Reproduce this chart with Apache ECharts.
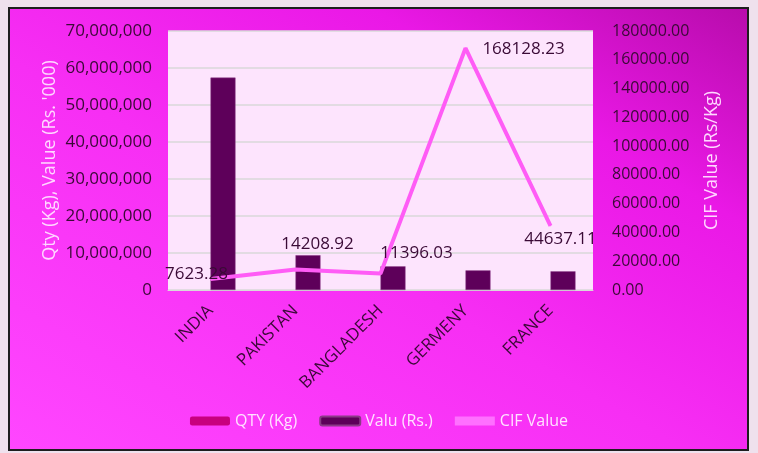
<!DOCTYPE html>
<html><head><meta charset="utf-8">
<script src="https://cdn.jsdelivr.net/npm/echarts@6/dist/echarts.min.js"></script>
<style>
html,body{margin:0;padding:0;background:#efe1ed;width:758px;height:453px;overflow:hidden}
#bg{position:absolute;left:8px;top:7px;width:737px;height:440px;border:2px solid #1e1e1e;
background:linear-gradient(30deg,#ff46ff 0%,#f72ef4 45%,#ea18e6 75%,#b80cac 100%);}
#c{position:absolute;left:0;top:0;width:758px;height:453px}
</style></head><body>
<div id="bg"></div><div id="c"></div>
<script>
const categories = ['INDIA','PAKISTAN','BANGLADESH','GERMENY','FRANCE'];
const qtyKg = [7530, 660, 560, 32, 113];
const valuRs = [57400000, 9400000, 6400000, 5300000, 5050000];
const cifValue = [7623.28, 14208.92, 11396.03, 168128.23, 44637.11];
const leftTicks = {min:0, max:70000000, interval:10000000};
const rightTicks = {min:0, max:180000, interval:20000};

const labelOffsets = [[-14,-5],[22,-25],[36,-20],[58,1],[10,13]];
const FONT = "'Open Sans', 'Noto Sans', sans-serif";
const dark = '#3a0a36';
const chart = echarts.init(document.getElementById('c'));
chart.setOption({
  backgroundColor:'transparent',
  animation:false,
  textStyle:{fontFamily:FONT},
  grid:{left:168,right:165,top:31,bottom:163,show:true,backgroundColor:'#fde4fd',borderWidth:0},
  legend:{
    bottom:19,left:'center',itemWidth:40,itemHeight:9,itemGap:22,
    textStyle:{color:'#ffe2ff',fontSize:16,fontFamily:FONT},
    data:[{name:'QTY (Kg)'},{name:'Valu (Rs.)'},{name:'CIF Value',icon:'rect',itemStyle:{color:'#ff70ff'}}]
  },
  xAxis:{
    type:'category',data:categories,
    axisLine:{lineStyle:{color:'#d9d9d9',width:1}},axisTick:{show:false},
    axisLabel:{rotate:45,color:dark,fontSize:17,fontFamily:FONT,margin:18}
  },
  yAxis:[{
    type:'value',min:leftTicks.min,max:leftTicks.max,interval:leftTicks.interval,
    name:"Qty (Kg), Value (Rs. '000)",nameLocation:'middle',nameGap:109,nameRotate:90,
    nameMoveOverlap:false,
    nameTextStyle:{color:'#ffd8ff',fontSize:18,fontFamily:FONT},
    axisLine:{show:false},axisTick:{show:false},
    splitLine:{lineStyle:{color:'#d9d9d9',width:1.5}},
    axisLabel:{color:dark,fontSize:17,fontFamily:FONT,margin:16,
      formatter:v=>v.toLocaleString('en-US')}
  },{
    type:'value',min:rightTicks.min,max:rightTicks.max,interval:rightTicks.interval,
    name:'CIF Value (Rs/Kg)',nameLocation:'middle',nameGap:110,nameRotate:90,
    nameMoveOverlap:false,
    nameTextStyle:{color:'#ffd8ff',fontSize:18,fontFamily:FONT},
    axisLine:{show:false},axisTick:{show:false},splitLine:{show:false},
    axisLabel:{color:dark,fontSize:16,fontFamily:FONT,margin:19,formatter:v=>v.toFixed(2)}
  }],
  series:[{
    name:'QTY (Kg)',type:'bar',data:qtyKg,barWidth:25,barGap:'0%',
    itemStyle:{color:'#c8007f'}
  },{
    name:'Valu (Rs.)',type:'bar',data:valuRs,barWidth:25,barGap:'0%',
    itemStyle:{color:'#5e005a',borderColor:'#8a3a86',borderWidth:0.5}
  },{
    name:'CIF Value',type:'line',yAxisIndex:1,
    data:cifValue.map((v,i)=>({value:v,label:{offset:labelOffsets[i]}})),
    symbol:'circle',symbolSize:1,showSymbol:true,
    lineStyle:{color:'#ff5cf6',width:4},itemStyle:{color:'#ff5cf6'},
    label:{show:true,position:'inside',color:dark,fontSize:17,fontFamily:FONT,
      formatter:p=>p.value.toFixed(2)}
  }]
});
</script></body></html>
